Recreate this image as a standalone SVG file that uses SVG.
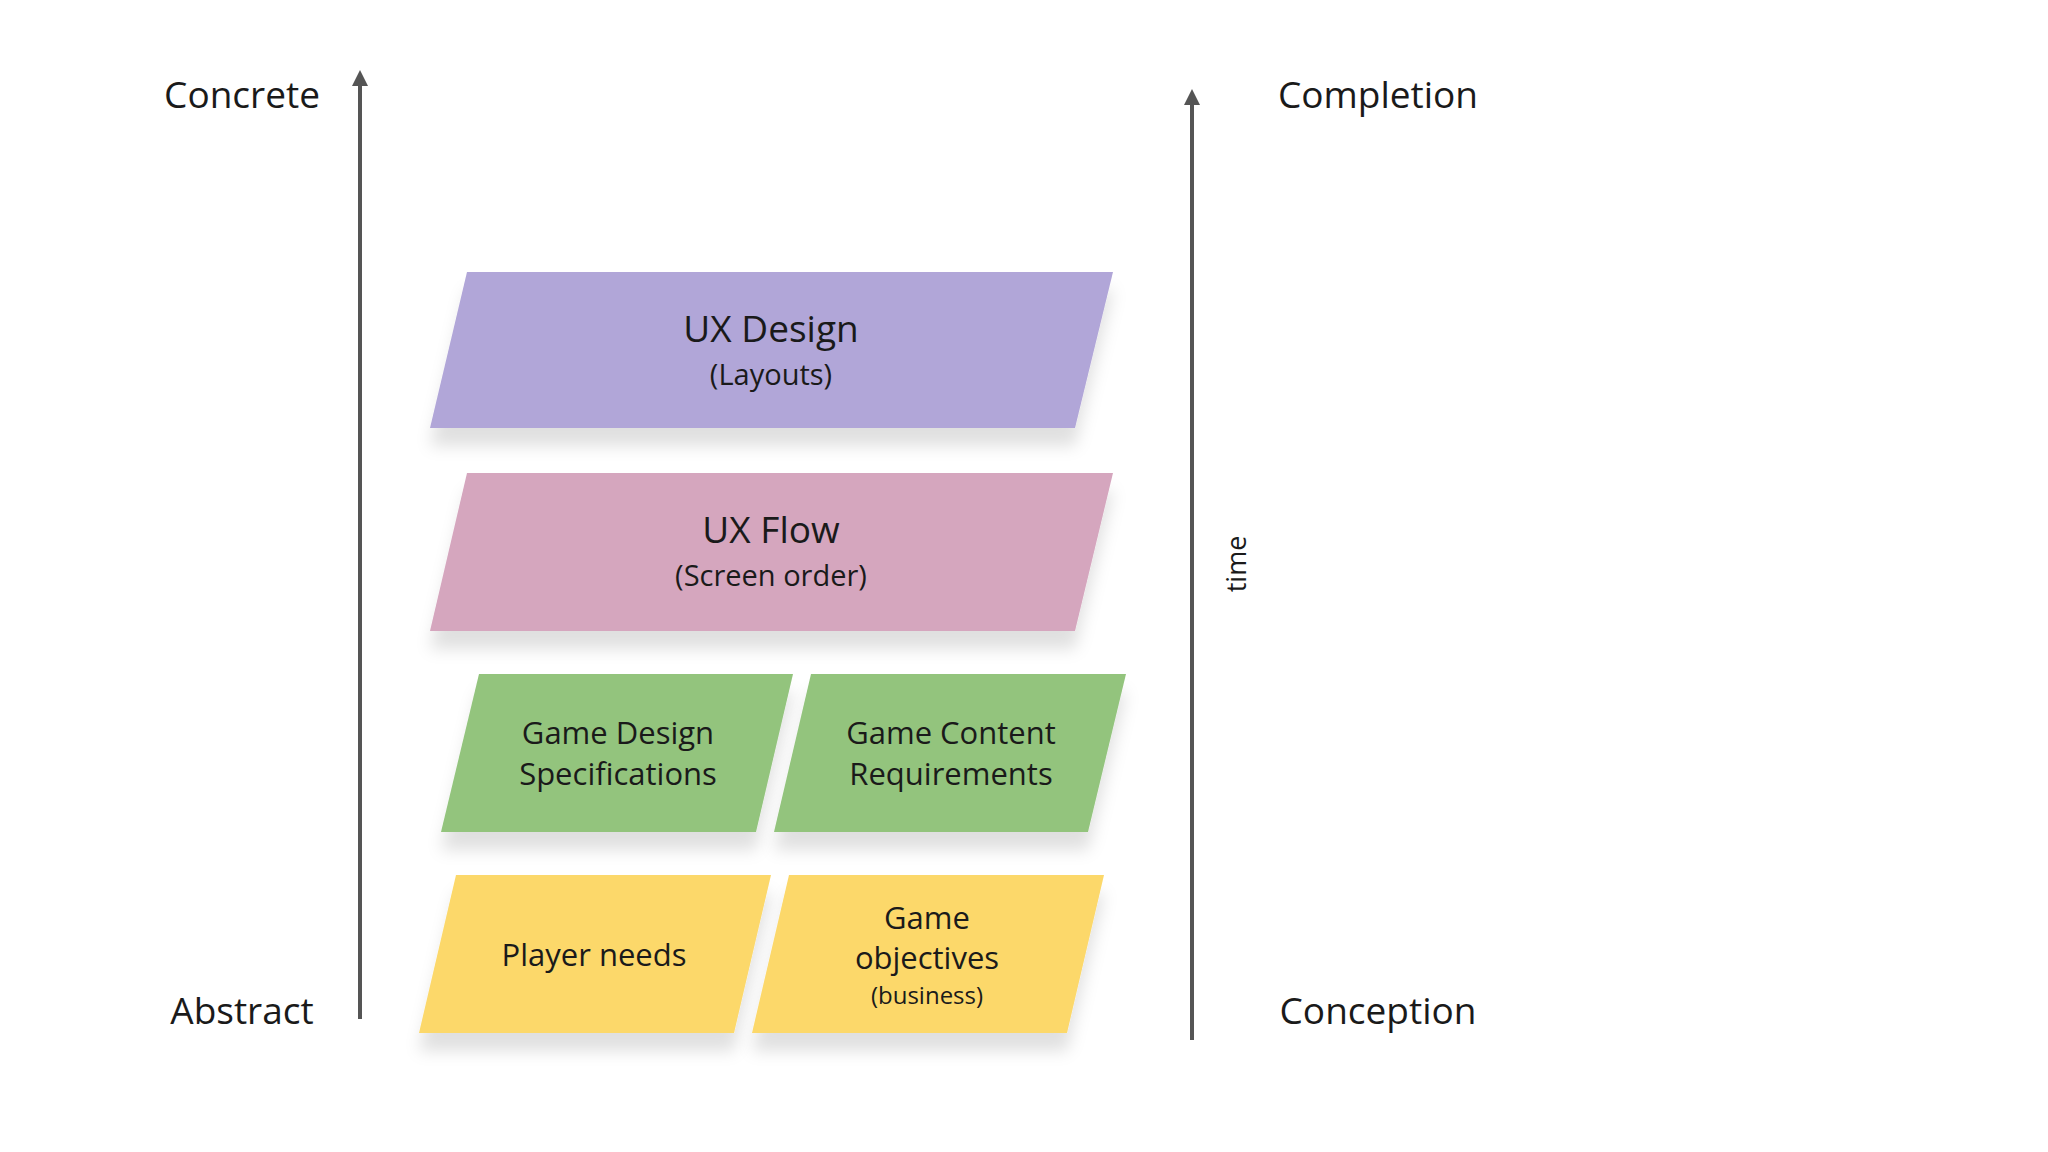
<svg xmlns="http://www.w3.org/2000/svg" width="2048" height="1152" viewBox="0 0 2048 1152">
<style>
text{font-family:"Open Sans","Liberation Sans",sans-serif;fill:#1a1a1a;text-anchor:middle}
.ax{font-size:37px}
.t{font-size:37px}.s{font-size:29px}.m{font-size:31px}
.sh{filter:url(#shd)}
</style>
<defs>
<filter id="shd" x="-10%" y="-10%" width="130%" height="150%"><feDropShadow dx="0" dy="18" stdDeviation="8" flood-color="#000" flood-opacity="0.12"/></filter>
<marker id="ah" viewBox="0 0 10 10" refX="5" refY="5" markerWidth="4" markerHeight="4" orient="auto"><path d="M0,0L10,5L0,10z" fill="#555"/></marker>
</defs>
<rect width="2048" height="1152" fill="#fff"/>
<g id="connectors" stroke="#555" stroke-width="4">
<line x1="360" y1="1019" x2="360" y2="78" marker-end="url(#ah)"/>
<line x1="1192" y1="1040" x2="1192" y2="97" marker-end="url(#ah)"/>
</g>
<g id="labels">
<text class="ax" x="242" y="108">Concrete</text>
<text class="ax" x="242" y="1024">Abstract</text>
<text class="ax" x="1378" y="108">Completion</text>
<text class="ax" x="1378" y="1024">Conception</text>
<text style="font-size:27px" transform="translate(1246,564) rotate(-90)">time</text>
</g>
<g id="ux-design"><polygon class="sh" points="467,272 1113,272 1075,428 430,428" fill="#B1A6D8"/><text class="t" x="771" y="342">UX Design</text><text class="s" x="771" y="385">(Layouts)</text></g>
<g id="ux-flow"><polygon class="sh" points="467,473 1113,473 1075,631 430,631" fill="#D5A6BE"/><text class="t" x="771" y="543">UX Flow</text><text class="s" x="771" y="586">(Screen order)</text></g>
<g id="gds"><polygon class="sh" points="479,674 793,674 756,832 441,832" fill="#93C47D"/><text class="m" x="618" y="744">Game Design</text><text class="m" x="618" y="785">Specifications</text></g>
<g id="gcr"><polygon class="sh" points="811,674 1126,674 1088,832 774,832" fill="#93C47D"/><text class="m" x="951" y="744">Game Content</text><text class="m" x="951" y="785">Requirements</text></g>
<g id="player"><polygon class="sh" points="456,875 771,875 734,1033 419,1033" fill="#FCD86A"/><text class="m" x="594" y="966">Player needs</text></g>
<g id="objectives"><polygon class="sh" points="789,875 1104,875 1067,1033 752,1033" fill="#FCD86A"/><text class="m" x="927" y="929">Game</text><text class="m" x="927" y="969">objectives</text><text style="font-size:24px" x="927" y="1004">(business)</text></g>
</svg>
